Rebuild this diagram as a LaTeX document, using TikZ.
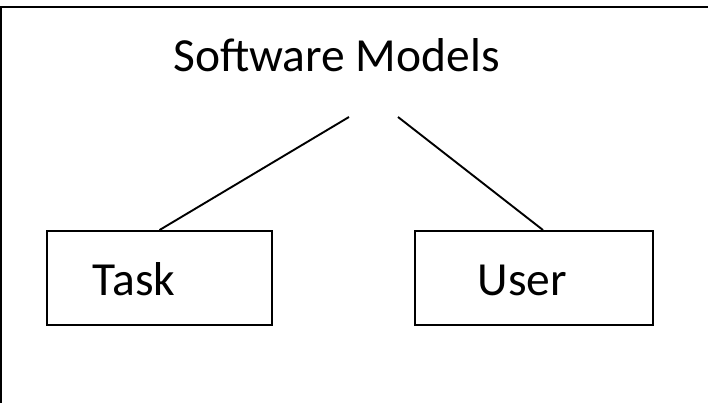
\documentclass[tikz,border=0pt]{standalone}
\usepackage{fontspec}
\setmainfont{Carlito}
\usepackage{tikz}
\usetikzlibrary{calc,positioning}
\newcommand{\linecolor}{black}
\newcommand{\thickness}{1.9pt}
\newcommand{\fontpt}{\fontsize{47.5}{55}\selectfont}

\begin{document}
\begin{tikzpicture}[x=1pt,y=-1pt]
\useasboundingbox (0,0) rectangle (708,403);
\clip (0,0) rectangle (708,403);
\draw[\linecolor] [line width = 2.5pt] (1,7) rectangle (730,430);
\node[draw=\linecolor, line width = \thickness, minimum width = 225pt, minimum height = 94pt] (task) at (159.5,278) {};
\node[draw=\linecolor, line width = \thickness, minimum width = 238pt, minimum height = 94pt] (user) at (534,278) {};
\node[anchor=base, inner sep=0pt] (title) at (336.5,72) {\fontpt Software Models};
\node[anchor=base, inner sep=0pt] (tasktext) at (134,295) {\fontpt Task};
\node[anchor=base, inner sep=0pt] (usertext) at (522.5,295) {\fontpt User};
\coordinate (lsplit) at (349,117);
\coordinate (rsplit) at (398,117);
\draw[\linecolor] [line width = \thickness] (lsplit) -- (task.north);
\draw[\linecolor] [line width = \thickness] (rsplit) -- ($(user.north)+(9,0)$);
\end{tikzpicture}
\end{document}
